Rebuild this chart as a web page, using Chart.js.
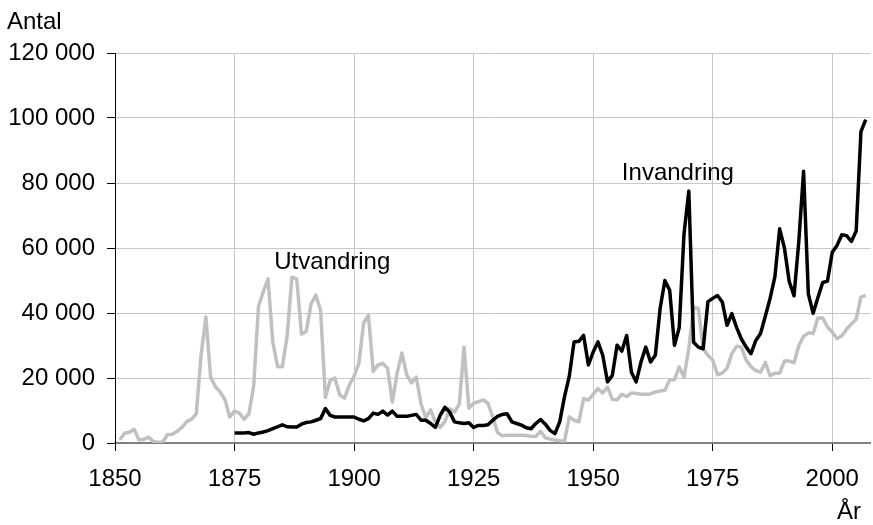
<!DOCTYPE html>
<html>
<head>
<meta charset="utf-8">
<script src="https://cdn.jsdelivr.net/npm/chart.js@4"></script>
<style>
  body { margin: 0; background: #fff; }
</style>
</head>
<body>
<canvas id="chart" width="873" height="525"></canvas>
<script>
// Years (categories)
const firstYear = 1851;
const lastYear = 2007;
const years = [];
for (let y = firstYear; y <= lastYear; y++) years.push(y);

// Utvandring 1851-2007
const utvandring = [
  1000, 3000, 3300, 4200, 1000, 1100, 1800, 500, 200, 300,          // 1851-1860
  2600, 2700, 3600, 4800, 6600, 7300, 9000, 27000, 38800, 20300,    // 1861-1870
  17300, 15700, 13300, 8000, 9800, 9200, 7300, 9000, 17500, 42000,  // 1871-1880
  46500, 50500, 31000, 23500, 23500, 33000, 51000, 50500, 33500, 34300, // 1881-1890
  42800, 45500, 40800, 14000, 19300, 20000, 14800, 13800, 17800, 20600, // 1891-1900
  24500, 37000, 39300, 22000, 24000, 24500, 23000, 12600, 21500, 27700, // 1901-1910
  21000, 18500, 20300, 12000, 7800, 10200, 6500, 4800, 6600, 10600,     // 1911-1920
  9500, 12000, 29500, 10700, 12200, 12700, 13300, 12200, 8000, 3200,    // 1921-1930
  2200, 2400, 2400, 2400, 2400, 2300, 2100, 2000, 3600, 1600,           // 1931-1940
  1200, 900, 700, 600, 8000, 7000, 6500, 13700, 13200, 15000,           // 1941-1950
  16700, 15400, 17200, 13400, 13300, 15000, 14300, 15400, 15200, 15000, // 1951-1960
  15000, 15100, 15700, 16000, 16200, 19500, 19500, 23400, 20300, 29000, // 1961-1970
  41800, 41400, 29000, 27000, 25500, 21000, 21500, 23000, 27500, 29800, // 1971-1980
  29500, 25500, 23500, 22300, 21800, 24800, 20700, 21500, 21500, 25200, // 1981-1990
  25200, 24700, 29900, 32800, 33900, 33700, 38500, 38500, 35700, 34100, // 1991-2000
  32100, 33000, 35000, 36600, 38100, 44900, 45400                       // 2001-2007
];

// Invandring 1875-2007
const invStart = 1875;
const invandring = [
  3100, 3100, 3100, 3200, 2700, 3100,                                   // 1875-1880
  3400, 3800, 4400, 5000, 5600, 5000, 4900, 4900, 5800, 6300,           // 1881-1890
  6500, 7000, 7500, 10600, 8500, 8000, 8000, 8000, 8000, 8000,          // 1891-1900
  7300, 6800, 7500, 9200, 8800, 9800, 8600, 9800, 8200, 8200,           // 1901-1910
  8200, 8500, 8800, 7000, 7000, 6000, 4800, 8500, 11000, 9500,          // 1911-1920
  6500, 6200, 6000, 6200, 4800, 5400, 5400, 5600, 7000, 8200,           // 1921-1930
  8800, 9000, 6500, 6000, 5500, 4700, 4400, 6000, 7200, 5800,           // 1931-1940
  3900, 2900, 6500, 14200, 20500, 31100, 31300, 33100, 24000, 28000,    // 1941-1950
  31100, 27000, 18800, 20800, 30100, 28300, 33100, 21800, 18800, 24900, // 1951-1960
  29500, 24900, 27000, 41400, 50000, 47000, 30100, 35500, 64400, 77500, // 1961-1970
  31000, 29500, 29000, 43500, 44500, 45400, 43400, 36200, 39800, 35500, // 1971-1980
  32000, 29500, 27500, 31500, 33700, 39000, 44500, 51100, 65900, 60000, // 1981-1990
  49700, 45300, 61900, 83600, 45900, 39900, 44800, 49400, 49800, 58700, // 1991-2000
  60800, 64100, 63800, 62000, 65200, 95800, 99500                       // 2001-2007
];

const xTicks = [1850, 1875, 1900, 1925, 1950, 1975, 2000];
const yTicks = [0, 20000, 40000, 60000, 80000, 100000, 120000];

const toPoints = (start, values) => values.map((v, i) => ({ x: start + i, y: v }));

const formatThousands = v => String(v).replace(/\B(?=(\d{3})+(?!\d))/g, ' ');

Chart.defaults.font.family = "'Liberation Sans', Arial, sans-serif";
Chart.defaults.font.size = 24;
Chart.defaults.color = '#000';

// Text labels: axis names and series names
const labelPlugin = {
  id: 'labels',
  afterDraw(chart) {
    const ctx = chart.ctx;
    const x = chart.scales.x;
    const y = chart.scales.y;
    ctx.save();
    ctx.fillStyle = '#000';
    ctx.font = "24px 'Liberation Sans', Arial, sans-serif";
    ctx.textBaseline = 'middle';
    ctx.textAlign = 'left';
    ctx.fillText('Utvandring', x.getPixelForValue(1883.3), y.getPixelForValue(55600));
    ctx.fillText('Invandring', x.getPixelForValue(1956), y.getPixelForValue(83000));
    ctx.textBaseline = 'alphabetic';
    ctx.fillText('Antal', 7, 29);
    ctx.fillText('År', 837, 519);
    ctx.restore();
  }
};

new Chart(document.getElementById('chart').getContext('2d'), {
  type: 'line',
  data: {
    datasets: [{
      label: 'Invandring',
      data: toPoints(invStart, invandring),
      borderColor: '#000',
      borderWidth: 3.5,
      pointRadius: 0,
      tension: 0,
      borderJoinStyle: 'round'
    }, {
      label: 'Utvandring',
      data: toPoints(firstYear, utvandring),
      borderColor: '#c0c0c0',
      borderWidth: 3.5,
      pointRadius: 0,
      tension: 0,
      borderJoinStyle: 'round'
    }]
  },
  options: {
    responsive: false,
    animation: false,
    devicePixelRatio: 1,
    layout: { padding: { top: 53, right: 1, left: 0, bottom: 0 } },
    plugins: {
      legend: { display: false },
      tooltip: { enabled: false }
    },
    scales: {
      x: {
        type: 'linear',
        min: 1850,
        max: 2008,
        afterBuildTicks: s => { s.ticks = xTicks.map(v => ({ value: v })); },
        afterFit: s => { s.height = 82; },
        ticks: { padding: 14, maxRotation: 0, autoSkip: false, callback: v => String(v) },
        grid: { color: '#c8c8c8', tickColor: '#000', tickLength: 8 },
        border: { color: '#808080', width: 2 }
      },
      y: {
        min: 0,
        max: 120000,
        afterBuildTicks: s => { s.ticks = yTicks.map(v => ({ value: v })); },
        afterFit: s => { s.width = 115; },
        ticks: { padding: 12, callback: v => formatThousands(v) },
        grid: { color: '#c8c8c8', tickColor: '#000', tickLength: 8 },
        border: { color: '#000', width: 1 }
      }
    }
  },
  plugins: [labelPlugin]
});
</script>
</body>
</html>
